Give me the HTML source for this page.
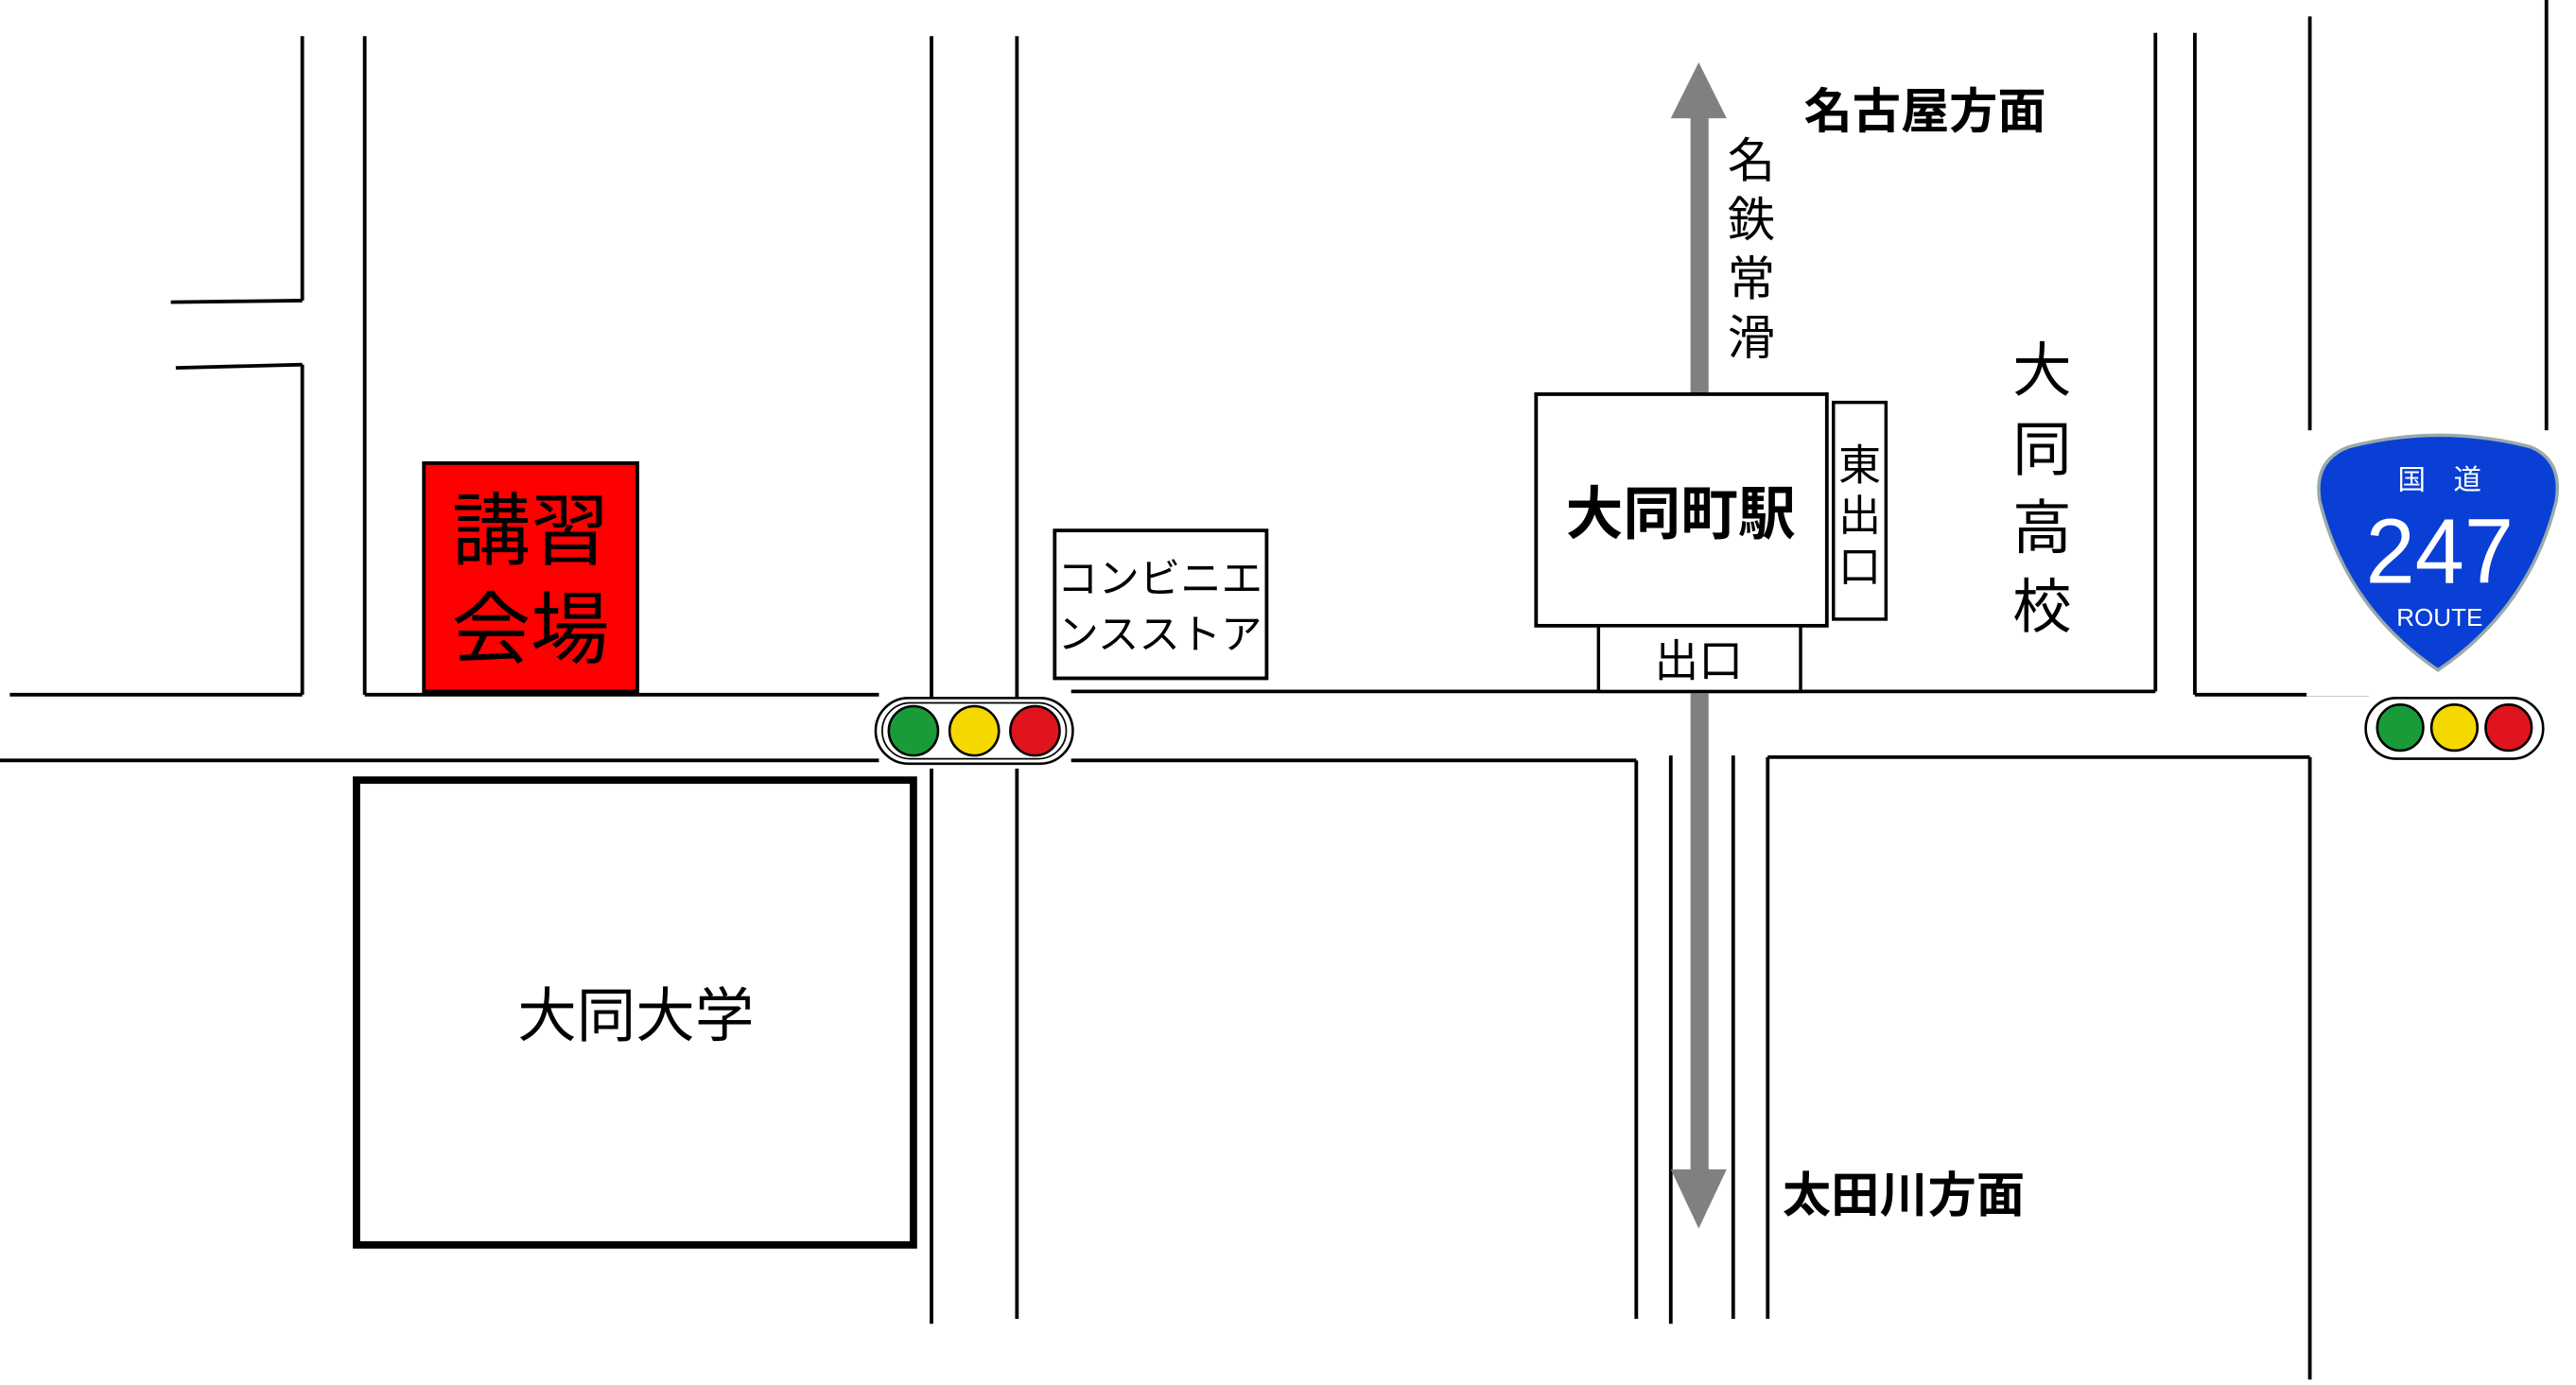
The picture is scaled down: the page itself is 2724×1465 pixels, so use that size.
<!DOCTYPE html>
<html><head><meta charset="utf-8"><style>
html,body{margin:0;padding:0;background:#fff;}
svg{display:block;}
text{font-family:"Liberation Sans","Noto Sans CJK JP",sans-serif;}
</style></head><body>
<svg width="2724" height="1465" viewBox="0 0 1568 843.3" preserveAspectRatio="none" xmlns="http://www.w3.org/2000/svg">
<rect width="1568" height="844" fill="#fff"/>
<g stroke="#000" stroke-width="2.2" fill="none">
<line x1="184" y1="22" x2="184" y2="183"/>
<line x1="104" y1="184" x2="184" y2="183"/>
<line x1="184" y1="222" x2="184" y2="423"/>
<line x1="107" y1="224" x2="184" y2="222"/>
<line x1="222" y1="22" x2="222" y2="423"/>
<line x1="6" y1="423" x2="184" y2="423"/>
<line x1="222" y1="423" x2="535" y2="423"/>
<line x1="0" y1="463" x2="535" y2="463"/>
<line x1="567" y1="22" x2="567" y2="425"/>
<line x1="619" y1="22" x2="619" y2="425"/>
<line x1="567" y1="468" x2="567" y2="806"/>
<line x1="619" y1="468" x2="619" y2="803"/>
<line x1="652" y1="421" x2="1312" y2="421"/>
<line x1="652" y1="463" x2="996" y2="463"/>
<line x1="996" y1="463" x2="996" y2="803"/>
<line x1="1017" y1="460" x2="1017" y2="806"/>
<line x1="1055" y1="460" x2="1055" y2="803"/>
<line x1="1076" y1="461" x2="1076" y2="803"/>
<line x1="1076" y1="461" x2="1406" y2="461"/>
<line x1="1312" y1="20" x2="1312" y2="421"/>
<line x1="1336" y1="20" x2="1336" y2="423"/>
<line x1="1336" y1="423" x2="1442" y2="423"/>
<line x1="1406" y1="10" x2="1406" y2="423"/>
<line x1="1406" y1="461" x2="1406" y2="840"/>
<line x1="1550" y1="0" x2="1550" y2="420"/>
</g>
<g fill="#808080">
<rect x="1029" y="70" width="11" height="170"/>
<polygon points="1034,38 1017,72 1051,72"/>
<rect x="1029" y="421" width="11" height="295"/>
<polygon points="1034,748 1017,712 1051,712"/>
</g>
<rect x="935" y="240" width="177" height="141" fill="#fff" stroke="#000" stroke-width="2.2"/>
<text x="1023" y="325" font-size="35" font-weight="bold" text-anchor="middle">大同町駅</text>
<rect x="1116" y="245" width="32" height="132" fill="#fff" stroke="#000" stroke-width="2"/>
<g font-size="26" text-anchor="middle"><text x="1132" y="292">東</text><text x="1132" y="323">出</text><text x="1132" y="354">口</text></g>
<rect x="973" y="381" width="123" height="40" fill="#fff" stroke="#000" stroke-width="2"/>
<text x="1034" y="412" font-size="27" text-anchor="middle">出口</text>
<g font-size="29" text-anchor="middle"><text x="1066" y="108">名</text><text x="1066" y="144">鉄</text><text x="1066" y="180">常</text><text x="1066" y="216">滑</text></g>
<text x="1098" y="78" font-size="29.5" font-weight="bold">名古屋方面</text>
<text x="1085" y="738" font-size="29.5" font-weight="bold">太田川方面</text>
<g font-size="36" text-anchor="middle"><text x="1243" y="238">大</text><text x="1243" y="286">同</text><text x="1243" y="334">高</text><text x="1243" y="382">校</text></g>
<rect x="258" y="282" width="130" height="139" fill="#f00" stroke="#000" stroke-width="2.2"/>
<text x="323" y="340" font-size="48" text-anchor="middle">講習</text>
<text x="323" y="400" font-size="48" text-anchor="middle">会場</text>
<rect x="642" y="323" width="129" height="90" fill="#fff" stroke="#000" stroke-width="2.2"/>
<text x="706" y="361" font-size="25" text-anchor="middle">コンビニエ</text>
<text x="706" y="395" font-size="25" text-anchor="middle">ンスストア</text>
<rect x="217" y="475" width="339" height="283" fill="#fff" stroke="#000" stroke-width="4.5"/>
<text x="387" y="631" font-size="36" text-anchor="middle">大同大学</text>
<g stroke="#000" stroke-width="1.5">
<rect x="533" y="425" width="120" height="40" rx="20" fill="#fff"/>
<rect x="537" y="428" width="112" height="34" rx="17" fill="#fff" stroke-width="1"/>
<circle cx="556" cy="445" r="15" fill="#1a9b3a"/>
<circle cx="593" cy="445" r="15" fill="#f5d800"/>
<circle cx="630" cy="445" r="15" fill="#e0141e"/>
</g>
<rect x="1404" y="262" width="160" height="162" fill="#fff"/>
<g stroke="#000" stroke-width="1.5">
<rect x="1440" y="425" width="108" height="37" rx="18.5" fill="#fff"/>
<circle cx="1461" cy="443" r="14" fill="#1a9b3a"/>
<circle cx="1494" cy="443" r="14" fill="#f5d800"/>
<circle cx="1527" cy="443" r="14" fill="#e0141e"/>
</g>
<path d="M1430,272 Q1485,258 1540,272 Q1560,280 1556,305 Q1540,370 1484,408 Q1428,370 1412,305 Q1408,280 1430,272 Z" fill="#0a3fd6" stroke="#9aa" stroke-width="2"/>
<text x="1485" y="298" font-size="17" fill="#fff" text-anchor="middle">国　道</text>
<text x="1485" y="355" font-size="56" fill="#fff" text-anchor="middle" textLength="90" lengthAdjust="spacingAndGlyphs">247</text>
<text x="1485" y="381" font-size="15" fill="#fff" text-anchor="middle">ROUTE</text>
</svg>
</body></html>
